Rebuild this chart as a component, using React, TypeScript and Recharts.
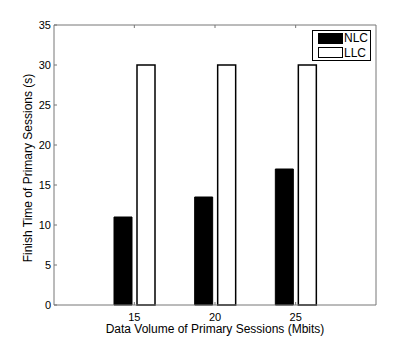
import React from "react";
import { BarChart, Bar, XAxis, YAxis, Legend, Label } from "recharts";

const volumes = ["15", "20", "25"];
const nlcTimes = [11, 13.5, 17];
const llcTimes = [30, 30, 30];
const yTicks = [0, 5, 10, 15, 20, 25, 30, 35];

const data = volumes.map((v, i) => ({ volume: v, NLC: nlcTimes[i], LLC: llcTimes[i] }));

const FONT = "'Liberation Sans', Arial, Helvetica, sans-serif";
const AXIS = "#777";

const LegendBox = () => (
  <div
    style={{
      border: "1px solid #000",
      background: "#fff",
      width: 57,
      height: 29,
      fontFamily: FONT,
      fontSize: 12,
      lineHeight: "14px",
      boxSizing: "content-box",
    }}
  >
    {[
      { name: "NLC", fill: "#000" },
      { name: "LLC", fill: "#fff" },
    ].map((it) => (
      <div key={it.name} style={{ display: "flex", alignItems: "center", height: 14.5 }}>
        <span
          style={{
            display: "inline-block",
            width: 23,
            height: 9,
            marginLeft: 5,
            background: it.fill,
            border: "1px solid #000",
          }}
        />
        <span style={{ marginLeft: 1 }}>{it.name}</span>
      </div>
    ))}
  </div>
);

// rotated y label, centred on the plot height
const YTitle = ({ viewBox }: any) => {
  const cx = viewBox.x + 28;
  const cy = viewBox.y + viewBox.height / 2 + 3;
  return (
    <text
      x={cx}
      y={cy}
      transform={`rotate(-90 ${cx} ${cy})`}
      textAnchor="middle"
      dominantBaseline="central"
      fill="#000"
      fontSize={12}
      fontFamily={FONT}
    >
      Finish Time of Primary Sessions (s)
    </text>
  );
};

export default function App() {
  return (
    <div style={{ position: "absolute", left: 0, top: 0, background: "#fff" }}>
      <BarChart
        width={415}
        height={344}
        data={data}
        margin={{ top: 15, right: 29, bottom: 0, left: 0 }}
        barSize={18}
        barGap={5}
        style={{ fontFamily: FONT }}
      >
        <XAxis
          dataKey="volume"
          height={39}
          padding={{ left: 40, right: 40 }}
          stroke={AXIS}
          tickSize={-3}
          tickMargin={11}
          tick={{ fill: "#000", fontSize: 11 }}
        >
          <Label
            value="Data Volume of Primary Sessions (Mbits)"
            position="center"
            dy={4}
            style={{ fill: "#000", fontSize: 12 }}
          />
        </XAxis>
        <XAxis
          xAxisId="top"
          dataKey="volume"
          orientation="top"
          height={10}
          padding={{ left: 40, right: 40 }}
          stroke={AXIS}
          tickSize={-3}
          tickFormatter={() => ""}
        />
        <YAxis
          domain={[0, 35]}
          ticks={yTicks}
          width={54}
          stroke={AXIS}
          tickSize={-3}
          tickMargin={6}
          tick={{ fill: "#000", fontSize: 11 }}
        >
          <Label content={<YTitle />} />
        </YAxis>
        <YAxis
          yAxisId="right"
          orientation="right"
          domain={[0, 35]}
          ticks={yTicks}
          width={10}
          stroke={AXIS}
          tickSize={-3}
          tickFormatter={() => ""}
        />
        <Legend
          layout="horizontal"
          verticalAlign="middle"
          align="center"
          content={<LegendBox />}
          wrapperStyle={{ position: "absolute", left: 312, top: 30, width: 59, height: 31 }}
        />
        <Bar dataKey="NLC" fill="#000" stroke="#000" strokeWidth={1} isAnimationActive={false} />
        <Bar dataKey="LLC" fill="#fff" stroke="#000" strokeWidth={1.5} isAnimationActive={false} />
      </BarChart>
    </div>
  );
}
